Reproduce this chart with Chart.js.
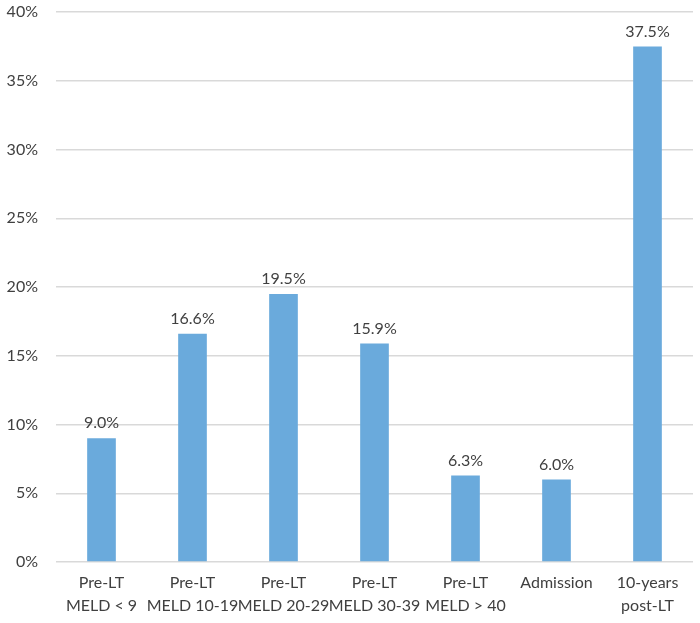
<!DOCTYPE html>
<html>
<head>
<meta charset="utf-8">
<script src="https://cdn.jsdelivr.net/npm/chart.js@4/dist/chart.umd.min.js"></script>
<style>
html,body{margin:0;padding:0;background:#fff;}
#wrap{width:700px;height:623px;position:relative;}
</style>
</head>
<body>
<div id="wrap"><canvas id="c" width="700" height="623"></canvas></div>
<script>
const categories = [
  ["Pre-LT", "MELD < 9"],
  ["Pre-LT", "MELD 10-19"],
  ["Pre-LT", "MELD 20-29"],
  ["Pre-LT", "MELD 30-39"],
  ["Pre-LT", "MELD > 40"],
  ["Admission"],
  ["10-years", "post-LT"]
];
const values = [9.0, 16.6, 19.5, 15.9, 6.3, 6.0, 37.5];
const valueLabels = ["9.0%", "16.6%", "19.5%", "15.9%", "6.3%", "6.0%", "37.5%"];
const yTicks = [0, 5, 10, 15, 20, 25, 30, 35, 40];

const FONT = "Lato, 'Open Sans', sans-serif";

const labelPlugin = {
  id: 'valueLabels',
  afterDatasetsDraw(chart) {
    const ctx = chart.ctx;
    const meta = chart.getDatasetMeta(0);
    ctx.save();
    ctx.font = "16px " + FONT;
    ctx.fillStyle = "#404040";
    ctx.textAlign = "center";
    ctx.textBaseline = "bottom";
    meta.data.forEach((bar, i) => {
      ctx.fillText(valueLabels[i], bar.x, bar.y - 7);
    });
    ctx.restore();
  }
};

new Chart(document.getElementById('c'), {
  type: 'bar',
  data: {
    labels: categories,
    datasets: [{
      data: values,
      backgroundColor: '#6aaadc',
      borderWidth: 0,
      barPercentage: 0.63,
      categoryPercentage: 0.5
    }]
  },
  options: {
    responsive: false,
    animation: false,
    layout: { padding: { top: 12, right: 7, left: 0, bottom: 0 } },
    plugins: { legend: { display: false }, tooltip: { enabled: false } },
    scales: {
      y: {
        min: 0, max: 40,
        afterBuildTicks(axis) { axis.ticks = yTicks.map(v => ({ value: v })); },
        afterFit(axis) { axis.width = 56; axis.paddingTop = 0; axis.paddingBottom = 0; },
        border: { display: false },
        grid: { color: '#d9d9d9', lineWidth: 1.5, drawTicks: false },
        ticks: {
          padding: 18,
          color: '#404040',
          font: { family: FONT, size: 16 },
          callback: v => v + '%'
        }
      },
      x: {
        afterFit(axis) { axis.height = 61; axis.paddingLeft = 0; axis.paddingRight = 0; },
        border: { display: false },
        grid: { display: false, drawTicks: false },
        ticks: {
          padding: 9,
          color: '#404040',
          maxRotation: 0,
          autoSkip: false,
          font: { family: FONT, size: 16, lineHeight: 1.45 }
        }
      }
    }
  },
  plugins: [labelPlugin]
});
</script>
</body>
</html>
